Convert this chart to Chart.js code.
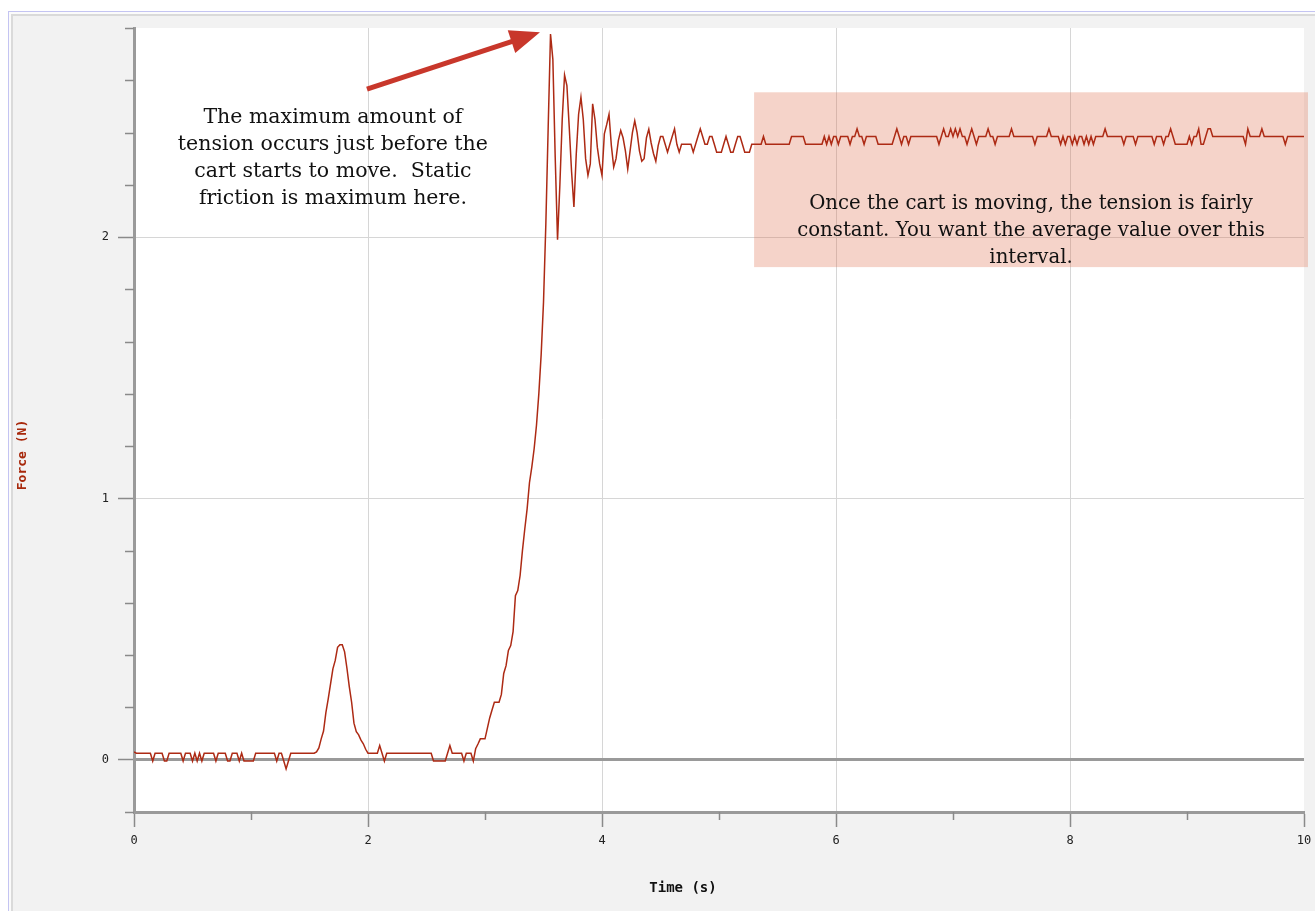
<!DOCTYPE html>
<html>
<head>
<meta charset="utf-8">
<script src="https://cdn.jsdelivr.net/npm/chart.js@4.4.1/dist/chart.umd.min.js"></script>
<style>
    html, body { margin: 0; padding: 0; background: #fff; overflow: hidden; }
    .frame { position: absolute; left: 8px; top: 11px; width: 1330px; height: 930px; border: 1px solid #c4c4f2; background: #fbfbfb; }
    .panel { position: absolute; left: 2px; top: 2px; right: 0; bottom: 0; border: 2px solid #dadada; background: #f2f2f2; }
    #chart { position: absolute; left: 0; top: 0; }
</style>
</head>
<body>
<div class="frame"><div class="panel"></div></div>
<canvas id="chart" width="1315" height="911"></canvas>
<script>
// sample interval of the force sensor (s)
const sampleStep = 0.02;

// force (N), one value per sample
// 0.00 - 1.54 s : cart at rest, sensor noise
const forceIdle = [
    0.03, 0.025, 0.025, 0.025, 0.025, 0.025, 0.025, 0.025,
    -0.005,
    0.025, 0.025, 0.025, 0.025,
    -0.005, -0.005,
    0.025, 0.025, 0.025, 0.025, 0.025, 0.025,
    -0.005,
    0.025, 0.025, 0.025,
    -0.005, 0.025, -0.005, 0.025, -0.005,
    0.025, 0.025, 0.025, 0.025, 0.025,
    -0.005,
    0.025, 0.025, 0.025, 0.025,
    -0.005, -0.005,
    0.025, 0.025, 0.025,
    -0.005, 0.025,
    -0.005, -0.005, -0.005, -0.005, -0.005,
    0.025, 0.025, 0.025, 0.025, 0.025, 0.025, 0.025, 0.025, 0.025,
    -0.005, 0.025, 0.025, -0.005, -0.035, -0.005,
    0.025, 0.025, 0.025, 0.025, 0.025, 0.025, 0.025, 0.025, 0.025, 0.025, 0.025
];
// 1.56 - 2.00 s : small bump
const forceBump = [
    0.03, 0.045, 0.08, 0.11, 0.18, 0.233, 0.29, 0.348, 0.38, 0.43, 0.44, 0.44,
    0.413, 0.35, 0.28, 0.22, 0.14, 0.107, 0.095, 0.075, 0.061, 0.04, 0.025
];
// 2.02 - 2.90 s
const forceRest = [
    0.025, 0.025, 0.025, 0.025,
    0.054, 0.025, -0.005,
    0.025, 0.025, 0.025, 0.025, 0.025, 0.025, 0.025, 0.025, 0.025, 0.025,
    0.025, 0.025, 0.025, 0.025, 0.025, 0.025, 0.025, 0.025, 0.025, 0.025,
    -0.005, -0.005, -0.005, -0.005, -0.005, -0.005,
    0.025, 0.054,
    0.025, 0.025, 0.025, 0.025, 0.025,
    -0.005, 0.025, 0.025, 0.025, -0.005
];
// 2.92 - 3.54 s : tension builds up
const forceRise = [
    0.042, 0.06, 0.08, 0.08, 0.08, 0.12, 0.16, 0.19, 0.22, 0.22, 0.22, 0.25,
    0.33, 0.36, 0.418, 0.437, 0.49, 0.628, 0.647, 0.705, 0.80, 0.883, 0.96, 1.06,
    1.12, 1.19, 1.28, 1.40, 1.55, 1.75, 2.05, 2.42
];
// 3.56 - 5.28 s : peak and ringing
const forceRing = [
    2.777, 2.68, 2.306, 1.99, 2.20, 2.45, 2.62, 2.58, 2.42, 2.25, 2.115, 2.318,
    2.47, 2.535, 2.45, 2.30, 2.236, 2.28, 2.51, 2.45, 2.344, 2.28, 2.236, 2.395,
    2.43, 2.47, 2.35, 2.268, 2.30, 2.37, 2.408, 2.38, 2.33, 2.26, 2.33, 2.40,
    2.445, 2.40, 2.33, 2.29, 2.30, 2.38, 2.413, 2.36, 2.32, 2.29, 2.35, 2.385,
    2.385, 2.355, 2.325, 2.355, 2.385, 2.414, 2.355, 2.325, 2.355, 2.355, 2.355, 2.355,
    2.355, 2.325, 2.355, 2.385, 2.414, 2.385, 2.355, 2.355, 2.385, 2.385, 2.355, 2.325,
    2.325, 2.325, 2.355, 2.385, 2.355, 2.325, 2.325, 2.355, 2.385, 2.385, 2.355, 2.325,
    2.325, 2.325, 2.355
];
// 5.30 - 10.00 s : cart moving, tension nearly constant
const forceSteady = [
    2.355, 2.355, 2.355, 2.355, 2.385, 2.355, 2.355, 2.355, 2.355, 2.355, 2.355, 2.355, 2.355, 2.355, 2.355, 2.355,
    2.385, 2.385, 2.385, 2.385, 2.385, 2.385, 2.355, 2.355, 2.355, 2.355, 2.355, 2.355, 2.355, 2.355,
    2.385, 2.355, 2.385, 2.355, 2.385, 2.385, 2.355, 2.385, 2.385, 2.385, 2.385, 2.355, 2.385, 2.385, 2.414, 2.385, 2.385,
    2.355, 2.385, 2.385, 2.385, 2.385, 2.385, 2.355, 2.355, 2.355, 2.355, 2.355, 2.355, 2.355, 2.385, 2.414, 2.385, 2.355, 2.385, 2.385, 2.355,
    2.385, 2.385, 2.385, 2.385, 2.385, 2.385, 2.385, 2.385, 2.385, 2.385, 2.385, 2.385,
    2.355, 2.385, 2.414, 2.385, 2.385, 2.414, 2.385, 2.414, 2.385, 2.414, 2.385, 2.385, 2.355, 2.385, 2.414, 2.385, 2.355,
    2.385, 2.385, 2.385, 2.385, 2.414, 2.385, 2.385, 2.355, 2.385, 2.385, 2.385, 2.385, 2.385, 2.385, 2.414,
    2.385, 2.385, 2.385, 2.385, 2.385, 2.385, 2.385, 2.385, 2.385, 2.355, 2.385, 2.385, 2.385, 2.385, 2.385, 2.414, 2.385, 2.385, 2.385, 2.385,
    2.355, 2.385, 2.355, 2.385, 2.385, 2.355, 2.385, 2.355, 2.385, 2.385, 2.355, 2.385, 2.355, 2.385, 2.355, 2.385, 2.385, 2.385, 2.385,
    2.414, 2.385, 2.385, 2.385, 2.385, 2.385, 2.385, 2.385, 2.355, 2.385, 2.385, 2.385, 2.385, 2.355, 2.385, 2.385, 2.385, 2.385, 2.385, 2.385, 2.385,
    2.355, 2.385, 2.385, 2.385, 2.355, 2.385, 2.385, 2.414, 2.385, 2.355, 2.355, 2.355, 2.355, 2.355, 2.355, 2.385, 2.355, 2.385, 2.385, 2.414, 2.355, 2.355, 2.385, 2.414, 2.414,
    2.385, 2.385, 2.385, 2.385, 2.385, 2.385, 2.385, 2.385, 2.385, 2.385, 2.385, 2.385, 2.385, 2.385, 2.355, 2.414, 2.385, 2.385, 2.385, 2.385, 2.385,
    2.414, 2.385, 2.385, 2.385, 2.385, 2.385, 2.385, 2.385, 2.385, 2.385, 2.355, 2.385, 2.385, 2.385, 2.385, 2.385, 2.385, 2.385, 2.385
];

const xLabels = ['0', '2', '4', '6', '8', '10'];
const yLabels = ['0', '1', '2'];

const noteMax = ['The maximum amount of', 'tension occurs just before the', 'cart starts to move.  Static', 'friction is maximum here.'];
const noteAvg = ['Once the cart is moving, the tension is fairly', 'constant. You want the average value over this', 'interval.'];

const force = [].concat(forceIdle, forceBump, forceRest, forceRise, forceRing, forceSteady);
const points = force.map((v, i) => ({ x: +(i * sampleStep).toFixed(2), y: v }));

const isStep = (v, k) => Math.abs(v / k - Math.round(v / k)) < 1e-6;

const plotBackground = {
    id: 'plotBackground',
    beforeDraw(chart) {
        const { ctx, chartArea: a } = chart;
        ctx.save();
        ctx.fillStyle = '#ffffff';
        ctx.fillRect(a.left, a.top, a.right - a.left, a.bottom - a.top);
        ctx.restore();
    }
};

// short marks for the unlabelled ticks
const minorTicks = {
    id: 'minorTicks',
    afterDraw(chart) {
        const { ctx, scales } = chart;
        ctx.save();
        ctx.strokeStyle = '#8a8a8a';
        ctx.lineWidth = 1.5;
        scales.y.ticks.forEach(t => {
            if (isStep(t.value, 1)) return;
            const py = Math.round(scales.y.getPixelForValue(t.value)) + 0.5;
            ctx.beginPath();
            ctx.moveTo(scales.y.right - 9, py);
            ctx.lineTo(scales.y.right, py);
            ctx.stroke();
        });
        scales.x.ticks.forEach(t => {
            if (isStep(t.value, 2)) return;
            const px = Math.round(scales.x.getPixelForValue(t.value)) + 0.5;
            ctx.beginPath();
            ctx.moveTo(px, scales.x.top);
            ctx.lineTo(px, scales.x.top + 8);
            ctx.stroke();
        });
        ctx.restore();
    }
};

const notes = {
    id: 'notes',
    beforeDatasetsDraw(chart) {
        const { ctx, scales: { x, y } } = chart;
        const x0 = x.getPixelForValue(5.3), x1 = x.getPixelForValue(10.034);
        const y0 = y.getPixelForValue(2.554), y1 = y.getPixelForValue(1.885);
        ctx.save();
        ctx.fillStyle = 'rgba(222, 112, 80, 0.31)';
        ctx.fillRect(x0, y0, x1 - x0, y1 - y0);
        ctx.restore();
    },
    afterDatasetsDraw(chart) {
        const { ctx, scales: { x, y } } = chart;
        ctx.save();
        ctx.fillStyle = '#111';
        ctx.textAlign = 'center';
        ctx.textBaseline = 'middle';
        ctx.font = '20.5px "DejaVu Serif"';
        let cx = x.getPixelForValue(1.70), cy = y.getPixelForValue(2.463) + 2;
        noteMax.forEach((s, i) => ctx.fillText(s, cx, cy + i * 27));
        ctx.font = '19.7px "DejaVu Serif"';
        cx = x.getPixelForValue(7.667); cy = y.getPixelForValue(2.134) + 2;
        noteAvg.forEach((s, i) => ctx.fillText(s, cx, cy + i * 27));

        // arrow towards the peak
        const ax = x.getPixelForValue(1.991), ay = y.getPixelForValue(2.566);
        const bx = x.getPixelForValue(3.47), by = y.getPixelForValue(2.784);
        const ang = Math.atan2(by - ay, bx - ax);
        const head = 30, half = 12;
        const hx = bx - head * Math.cos(ang), hy = by - head * Math.sin(ang);
        ctx.strokeStyle = '#c8372b';
        ctx.fillStyle = '#c8372b';
        ctx.lineWidth = 5;
        ctx.beginPath();
        ctx.moveTo(ax, ay);
        ctx.lineTo(hx + 4 * Math.cos(ang), hy + 4 * Math.sin(ang));
        ctx.stroke();
        ctx.beginPath();
        ctx.moveTo(bx, by);
        ctx.lineTo(hx + half * Math.sin(ang), hy - half * Math.cos(ang));
        ctx.lineTo(hx - half * Math.sin(ang), hy + half * Math.cos(ang));
        ctx.closePath();
        ctx.fill();
        ctx.restore();
    }
};

const axisTitles = {
    id: 'axisTitles',
    afterDraw(chart) {
        const { ctx } = chart;
        ctx.save();
        ctx.textAlign = 'center';
        ctx.textBaseline = 'middle';
        ctx.font = 'bold 14px "DejaVu Sans Mono"';
        ctx.fillStyle = '#111';
        ctx.fillText('Time (s)', 683, 888);
        ctx.translate(23, 455);
        ctx.rotate(-Math.PI / 2);
        ctx.fillStyle = '#a8290c';
        ctx.font = 'bold 13px "DejaVu Sans Mono"';
        ctx.fillText('Force (N)', 0, 0);
        ctx.restore();
    }
};

const ctx = document.getElementById('chart').getContext('2d');
new Chart(ctx, {
    type: 'line',
    data: {
        datasets: [{
            data: points,
            borderColor: '#ad2a14',
            borderWidth: 1.5,
            pointRadius: 0,
            tension: 0,
            fill: false
        }]
    },
    options: {
        responsive: false,
        animation: false,
        layout: { padding: { top: 28, right: 0, left: 0, bottom: 0 } },
        plugins: {
            legend: { display: false },
            tooltip: { enabled: false }
        },
        scales: {
            x: {
                type: 'linear',
                min: 0,
                max: 10,
                afterFit(s) {
                    s.height = 99;
                    s.paddingLeft = 0;
                    s.paddingRight = 11;
                },
                ticks: {
                    stepSize: 1,
                    autoSkip: false,
                    maxRotation: 0,
                    padding: 7,
                    color: '#222',
                    font: { family: 'DejaVu Sans Mono', size: 12 },
                    callback: v => isStep(v, 2) ? xLabels[Math.round(v / 2)] : ''
                },
                grid: {
                    color: c => (c.tick && isStep(c.tick.value, 2) && c.tick.value > 0 && c.tick.value < 10) ? '#d6d6d6' : 'rgba(0,0,0,0)',
                    lineWidth: 1,
                    tickColor: c => (c.tick && isStep(c.tick.value, 2)) ? '#8a8a8a' : 'rgba(0,0,0,0)',
                    tickLength: 15,
                    tickWidth: 1.5
                },
                border: { color: '#9a9a9a', width: 3 }
            },
            y: {
                min: -0.2,
                max: 2.8,
                afterFit(s) { s.width = 134; },
                ticks: {
                    stepSize: 0.2,
                    autoSkip: false,
                    padding: 9,
                    color: '#222',
                    font: { family: 'DejaVu Sans Mono', size: 12 },
                    callback: v => isStep(v, 1) ? yLabels[Math.round(v)] : ''
                },
                grid: {
                    color: c => {
                        if (!c.tick || !isStep(c.tick.value, 1)) return 'rgba(0,0,0,0)';
                        return Math.round(c.tick.value) === 0 ? '#9a9a9a' : '#d6d6d6';
                    },
                    lineWidth: c => (c.tick && Math.abs(c.tick.value) < 1e-6) ? 3 : 1,
                    tickColor: c => (c.tick && isStep(c.tick.value, 1)) ? '#8a8a8a' : 'rgba(0,0,0,0)',
                    tickLength: 16,
                    tickWidth: 1.5
                },
                border: { color: '#9a9a9a', width: 3 }
            }
        }
    },
    plugins: [plotBackground, minorTicks, notes, axisTitles]
});
</script>
</body>
</html>
